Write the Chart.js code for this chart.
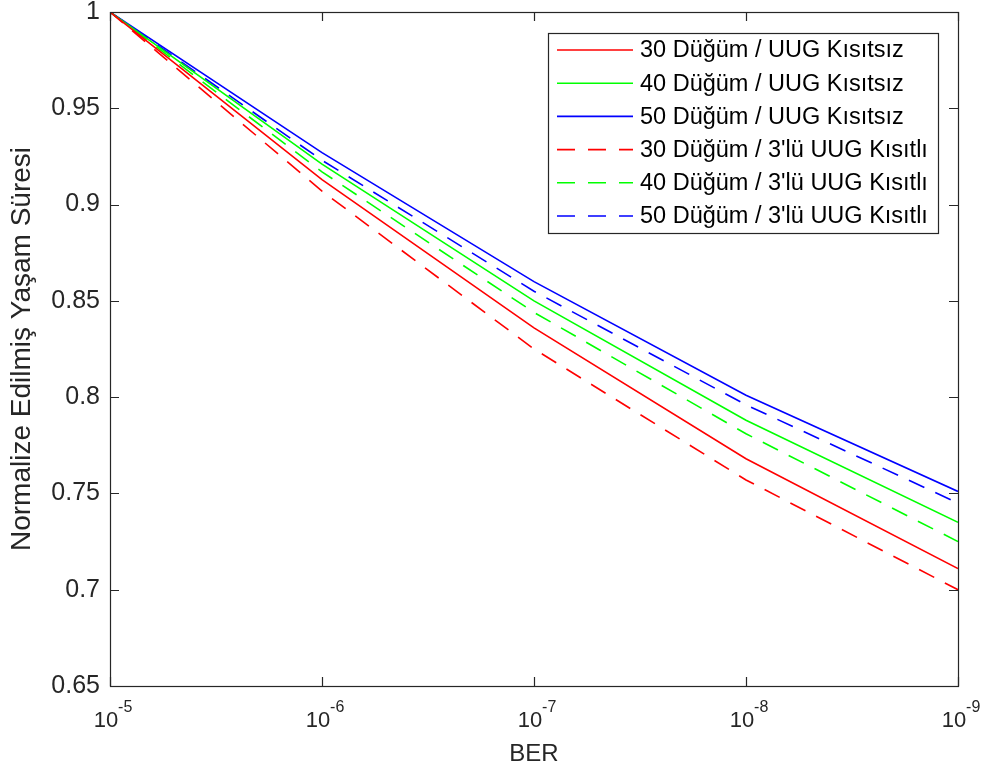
<!DOCTYPE html>
<html lang="tr">
<head>
    <meta charset="UTF-8">
    <title>Normalize Edilmiş Yaşam Süresi - BER</title>
    <script src="https://cdn.jsdelivr.net/npm/chart.js@4.4.1/dist/chart.umd.min.js"></script>
    <style>
        html, body { margin: 0; padding: 0; background: #fff; }
        #wrap { width: 985px; height: 774px; }
    </style>
</head>
<body>
    <div id="wrap"><canvas id="chart" width="985" height="774"></canvas></div>

    <script>
        // BER values (x axis, decades, reversed)
        const berValues = [1e-5, 1e-6, 1e-7, 1e-8, 1e-9];
        const xTickExponents = [-5, -6, -7, -8, -9];
        const yTickLabels = ['0.65', '0.7', '0.75', '0.8', '0.85', '0.9', '0.95', '1'];

        const seriesLabels = [
            '30 Düğüm / UUG Kısıtsız',
            '40 Düğüm / UUG Kısıtsız',
            '50 Düğüm / UUG Kısıtsız',
            '30 Düğüm / 3\'lü UUG Kısıtlı',
            '40 Düğüm / 3\'lü UUG Kısıtlı',
            '50 Düğüm / 3\'lü UUG Kısıtlı'
        ];
        const node30Free = [1, 0.913, 0.836, 0.768, 0.711];
        const node40Free = [1, 0.921, 0.850, 0.788, 0.735];
        const node50Free = [1, 0.927, 0.860, 0.801, 0.751];
        const node30Limited = [1, 0.907, 0.825, 0.757, 0.700];
        const node40Limited = [1, 0.917, 0.844, 0.781, 0.725];
        const node50Limited = [1, 0.923, 0.855, 0.796, 0.745];

        const axisColor = '#262626';
        const fontFam = '"Liberation Sans", Arial, sans-serif';
        const dash = [17, 12];

        function pts(values) {
            return values.map((v, i) => ({ x: berValues[i], y: v }));
        }

        function makeSet(label, values, color, dashed) {
            return {
                label: label,
                data: pts(values),
                borderColor: color,
                backgroundColor: color,
                borderWidth: 1.6,
                borderDash: dashed ? dash : [],
                pointRadius: 0,
                tension: 0,
                fill: false
            };
        }

        // box, inward ticks, x labels with superscripts, legend box
        const matlabLook = {
            id: 'matlabLook',
            afterDraw(chart) {
                const ctx = chart.ctx;
                const a = chart.chartArea;
                const xs = chart.scales.x;
                const ys = chart.scales.y;
                ctx.save();
                ctx.strokeStyle = axisColor;
                ctx.lineWidth = 1.2;
                ctx.strokeRect(a.left + 0.5, a.top + 0.5, a.right - a.left, a.bottom - a.top);

                const tl = 9;
                ctx.beginPath();
                yTickLabels.forEach(t => {
                    const y = Math.round(ys.getPixelForValue(parseFloat(t))) + 0.5;
                    ctx.moveTo(a.left, y); ctx.lineTo(a.left + tl, y);
                    ctx.moveTo(a.right, y); ctx.lineTo(a.right - tl, y);
                });
                xTickExponents.forEach(e => {
                    const x = Math.round(xs.getPixelForValue(Math.pow(10, e))) + 0.5;
                    ctx.moveTo(x, a.bottom); ctx.lineTo(x, a.bottom - tl);
                    ctx.moveTo(x, a.top); ctx.lineTo(x, a.top + tl);
                });
                ctx.stroke();

                // x tick labels 10^e
                ctx.fillStyle = axisColor;
                ctx.textBaseline = 'alphabetic';
                ctx.textAlign = 'left';
                xTickExponents.forEach(e => {
                    const x = xs.getPixelForValue(Math.pow(10, e));
                    const sup = String(e);
                    ctx.font = '22px ' + fontFam;
                    const wBase = ctx.measureText('10').width;
                    ctx.font = '16px ' + fontFam;
                    const wSup = ctx.measureText(sup).width;
                    const x0 = x - (wBase + wSup) / 2 + 3;
                    ctx.font = '22px ' + fontFam;
                    ctx.fillText('10', x0, a.bottom + 41);
                    ctx.font = '16px ' + fontFam;
                    ctx.fillText(sup, x0 + wBase, a.bottom + 26);
                });

                // legend
                const bx = 548, by = 33, bw = 390, bh = 200;
                ctx.fillStyle = '#fff';
                ctx.fillRect(bx, by, bw, bh);
                ctx.strokeStyle = axisColor;
                ctx.lineWidth = 1.2;
                ctx.strokeRect(bx + 0.5, by + 0.5, bw, bh);
                ctx.font = '23.5px ' + fontFam;
                ctx.textBaseline = 'middle';
                chart.data.datasets.forEach((ds, i) => {
                    const y = by + 17 + i * 33.2;
                    ctx.strokeStyle = ds.borderColor;
                    ctx.lineWidth = 1.6;
                    ctx.setLineDash(ds.borderDash.length ? [18, 13] : []);
                    ctx.beginPath();
                    ctx.moveTo(bx + 9, y);
                    ctx.lineTo(bx + 85, y);
                    ctx.stroke();
                    ctx.setLineDash([]);
                    ctx.fillStyle = '#000';
                    ctx.fillText(ds.label, bx + 92, y + 1);
                });
                ctx.restore();
            }
        };

        const ctx = document.getElementById('chart').getContext('2d');
        const myChart = new Chart(ctx, {
            type: 'line',
            data: {
                datasets: [
                    makeSet(seriesLabels[0], node30Free, '#ff0000', false),
                    makeSet(seriesLabels[1], node40Free, '#00ff00', false),
                    makeSet(seriesLabels[2], node50Free, '#0000ff', false),
                    makeSet(seriesLabels[3], node30Limited, '#ff0000', true),
                    makeSet(seriesLabels[4], node40Limited, '#00ff00', true),
                    makeSet(seriesLabels[5], node50Limited, '#0000ff', true)
                ]
            },
            options: {
                responsive: false,
                animation: false,
                layout: { padding: { left: 0, right: 27, top: 12, bottom: 0 } },
                plugins: {
                    legend: { display: false },
                    tooltip: { enabled: false }
                },
                scales: {
                    x: {
                        type: 'logarithmic',
                        reverse: true,
                        min: 1e-9,
                        max: 1e-5,
                        grid: { display: false, drawTicks: false },
                        border: { display: false },
                        afterBuildTicks: scale => {
                            scale.ticks = xTickExponents.map(e => ({ value: Math.pow(10, e) }));
                        },
                        ticks: { display: false },
                        title: {
                            display: true,
                            text: 'BER',
                            color: axisColor,
                            font: { family: fontFam, size: 24 },
                            padding: { top: 0, bottom: 5 }
                        },
                        afterFit: scale => {
                            scale.height = 88;
                            scale.paddingLeft = 0;
                            scale.paddingRight = 0;
                        }
                    },
                    y: {
                        min: 0.65,
                        max: 1,
                        grid: { display: false, drawTicks: false },
                        border: { display: false },
                        afterBuildTicks: scale => {
                            scale.ticks = yTickLabels.map(t => ({ value: parseFloat(t) }));
                        },
                        ticks: {
                            color: axisColor,
                            padding: 10,
                            font: { family: fontFam, size: 25 },
                            callback: (value, index) => yTickLabels[index]
                        },
                        title: {
                            display: true,
                            text: 'Normalize Edilmiş Yaşam Süresi',
                            color: axisColor,
                            font: { family: fontFam, size: 28 },
                            padding: { top: 5, bottom: 0 }
                        },
                        afterFit: scale => {
                            scale.width = 110;
                            scale.paddingTop = 0;
                            scale.paddingBottom = 0;
                        }
                    }
                }
            },
            plugins: [matlabLook]
        });
    </script>
</body>
</html>
